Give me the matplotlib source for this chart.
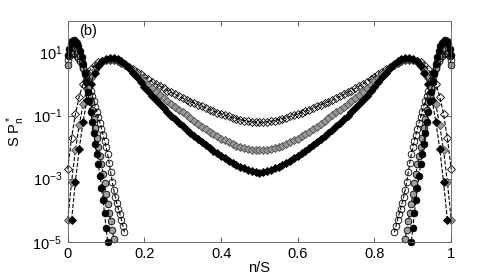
import numpy as np
import matplotlib
matplotlib.use("Agg")
import matplotlib.pyplot as plt
from matplotlib.ticker import FixedLocator, FixedFormatter, NullLocator

plt.rcParams['font.family'] = ['Liberation Sans', 'DejaVu Sans']
plt.rcParams['mathtext.default'] = 'regular'

# ---- data: broad U-shaped curves (log10 of S P_n*), left half n/S = 0.00 .. 0.50, symmetric ----
broad_x_half = np.arange(0, 51) / 100.0
broad_open = [-2.7, -1.7, -0.95, -0.4, 0.0, 0.28, 0.47, 0.6, 0.68, 0.73, 0.75, 0.76, 0.75, 0.72, 0.67,
              0.61, 0.54, 0.47, 0.39, 0.31, 0.23, 0.15, 0.07, 0.0, -0.07, -0.14, -0.21, -0.27, -0.33,
              -0.39, -0.45, -0.51, -0.56, -0.61, -0.66, -0.71, -0.76, -0.81, -0.86, -0.91, -0.95, -0.99,
              -1.03, -1.07, -1.10, -1.13, -1.16, -1.18, -1.20, -1.21, -1.22]
broad_gray = [-4.3, -3.1, -2.1, -1.3, -0.65, -0.15, 0.2, 0.45, 0.6, 0.7, 0.76, 0.78, 0.78, 0.75, 0.69,
              0.61, 0.51, 0.41, 0.30, 0.19, 0.08, -0.03, -0.14, -0.25, -0.35, -0.45, -0.55, -0.64, -0.73,
              -0.82, -0.90, -0.99, -1.08, -1.17, -1.26, -1.35, -1.43, -1.51, -1.59, -1.66, -1.73, -1.79,
              -1.85, -1.90, -1.95, -1.99, -2.03, -2.06, -2.08, -2.09, -2.10]
broad_black = [np.nan, -4.3, -3.1, -2.05, -1.2, -0.5, 0.0, 0.35, 0.58, 0.72, 0.79, 0.82, 0.82, 0.79, 0.72,
               0.62, 0.50, 0.36, 0.21, 0.06, -0.09, -0.23, -0.37, -0.50, -0.63, -0.76, -0.88, -1.00, -1.12,
               -1.23, -1.34, -1.45, -1.55, -1.65, -1.75, -1.85, -1.94, -2.03, -2.12, -2.20, -2.28, -2.36,
               -2.43, -2.50, -2.56, -2.62, -2.67, -2.72, -2.76, -2.79, -2.83]

# ---- data: edge-peaked curves (log10 of S P_n*), left edge, n/S step 0.004, mirrored at right edge ----
edge_step = 0.004
edge_black = [0.91, 1.12, 1.28, 1.37, 1.40, 1.37, 1.30, 1.19, 1.04, 0.86, 0.62, 0.35, 0.05, -0.25, -0.55,
              -0.88, -1.22, -1.56, -1.90, -2.22, -2.55, -2.92, -3.28, -3.66, -4.10, -4.55, -5.0]
edge_gray = [0.6, 0.88, 1.05, 1.15, 1.19, 1.18, 1.12, 1.02, 0.88, 0.70, 0.50, 0.30, 0.10, -0.12, -0.35,
             -0.58, -0.83, -1.10, -1.40, -1.70, -2.0, -2.28, -2.55, -2.85, -3.15, -3.47, -3.8, -4.08,
             -4.35, -4.62, -4.9]
edge_open = [0.75, 0.88, 0.95, 0.98, 0.98, 0.95, 0.90, 0.83, 0.74, 0.64, 0.52, 0.39, 0.25, 0.10, -0.06,
             -0.22, -0.38, -0.55, -0.72, -0.89, -1.06, -1.24, -1.42, -1.61, -1.80, -2.0, -2.22, -2.5,
             -2.8, -3.1, -3.35, -3.58, -3.78, -3.95, -4.12, -4.3, -4.5, -4.7]

x_ticks = [0, 0.2, 0.4, 0.6, 0.8, 1]
x_ticklabels = ['0', '0.2', '0.4', '0.6', '0.8', '1']
y_ticks = [1e-5, 1e-3, 1e-1, 1e1]
y_ticklabels = [r'$10^{-5}$', r'$10^{-3}$', r'$10^{-1}$', r'$10^{1}$']


def full_broad(vals):
    v = np.array(vals, dtype=float)
    x = np.concatenate([broad_x_half, 1 - broad_x_half[-2::-1]])
    y = np.concatenate([v, v[-2::-1]])
    return x, 10 ** y


fig = plt.figure(figsize=(4.98, 2.77), dpi=100)
ax = fig.add_axes([0.136, 0.127, 0.770, 0.798])
ax.set_yscale('log')

lw = 0.8
mew = 0.6
# broad curves
x, y = full_broad(broad_open)
ax.plot(x, y, '--', color='k', lw=lw, marker='D', ms=4.0, mfc='none', mec='k', mew=mew, clip_on=False)
x, y = full_broad(broad_gray)
ax.plot(x, y, '--', color='k', lw=lw, marker='D', ms=4.0, mfc='0.6', mec='0.3', mew=mew, clip_on=False)
x, y = full_broad(broad_black)
ax.plot(x, y, '--', color='k', lw=lw, marker='D', ms=4.0, mfc='k', mec='k', mew=mew, clip_on=False)

# edge-peaked curves (both edges)
for vals, fc in [(edge_open, 'none'), (edge_gray, '0.62'), (edge_black, 'k')]:
    v = 10 ** np.array(vals)
    xe = np.arange(len(vals)) * edge_step
    for xx in (xe, 1 - xe):
        ax.plot(xx, v, '--', color='k', lw=lw, marker='o', ms=4.8, mfc=fc, mec='k', mew=mew,
                clip_on=False)

ax.set_xlim(0, 1)
ax.set_ylim(1e-5, 1e2)
ax.xaxis.set_major_locator(FixedLocator(x_ticks))
ax.xaxis.set_major_formatter(FixedFormatter(x_ticklabels))
ax.yaxis.set_major_locator(FixedLocator(y_ticks))
ax.yaxis.set_major_formatter(FixedFormatter(y_ticklabels))
ax.yaxis.set_minor_locator(NullLocator())
ax.tick_params(direction='in', top=True, right=True, length=3.5, width=0.6, labelsize=10.5,
               color='0.3', pad=4)
for s in ax.spines.values():
    s.set_linewidth(0.6)
    s.set_color('0.35')

ax.set_xlabel('n/S', fontsize=10.5, labelpad=0)
ax.set_ylabel(r'S P$^*_n$', fontsize=10.5)
ax.yaxis.set_label_coords(-0.106, 0.5)
ax.text(0.029, 0.985, '(b)', transform=ax.transAxes, fontsize=10.5, ha='left', va='top')

fig.savefig('out.png', dpi=100)
